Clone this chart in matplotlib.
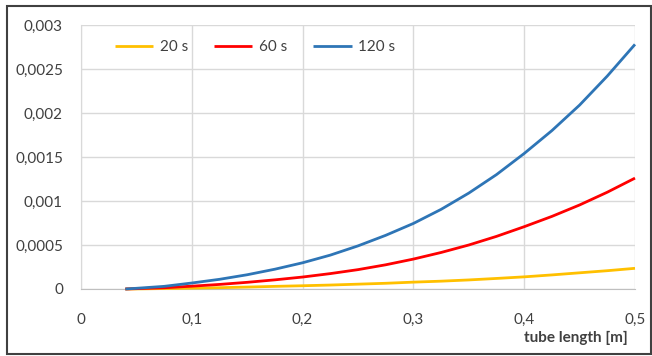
import matplotlib.pyplot as plt
from matplotlib.patches import Rectangle

plt.rcParams['font.family'] = ['Lato', 'DejaVu Sans']

# tube length [m] and values for each time
length = [0.04, 0.05, 0.075, 0.1, 0.125, 0.15, 0.175, 0.2, 0.225, 0.25,
          0.275, 0.3, 0.325, 0.35, 0.375, 0.4, 0.425, 0.45, 0.475, 0.5]
v20 = [0, 0.000001, 0.000005, 0.00001, 0.000015, 0.000022, 0.00003, 0.000037,
       0.000045, 0.000055, 0.000065, 0.000078, 0.000089, 0.000103, 0.00012,
       0.000138, 0.00016, 0.000184, 0.000208, 0.000235]
v60 = [0, 0.000004, 0.000014, 0.000032, 0.000052, 0.000076, 0.000104, 0.000136,
       0.000175, 0.00022, 0.000275, 0.00034, 0.000415, 0.0005, 0.000598,
       0.000708, 0.000825, 0.000955, 0.0011, 0.00126]
v120 = [0, 0.000008, 0.00003, 0.000068, 0.00011, 0.000162, 0.000225, 0.000298,
        0.000385, 0.00049, 0.00061, 0.000745, 0.000905, 0.00109, 0.0013,
        0.00154, 0.0018, 0.00209, 0.00242, 0.00278]

labels = ["20 s", "60 s", "120 s"]
colors = ["#FFC000", "#FF0000", "#2E75B6"]
xticks = [0, 0.1, 0.2, 0.3, 0.4, 0.5]
yticks = [0, 0.0005, 0.001, 0.0015, 0.002, 0.0025, 0.003]
xticklabels = ["0", "0,1", "0,2", "0,3", "0,4", "0,5"]
yticklabels = ["0", "0,0005", "0,001", "0,0015", "0,002", "0,0025", "0,003"]

W, H = 652, 356
fig = plt.figure(figsize=(W / 100, H / 100), dpi=100)
ax = fig.add_axes([81 / W, 1 - 289 / H, 554 / W, 264 / H])

for y, lab, c in zip([v20, v60, v120], labels, colors):
    ax.plot(length, y, color=c, lw=2.0, label=lab, clip_on=False,
            solid_capstyle='butt', solid_joinstyle='round', zorder=3)

ax.set_xlim(0, 0.5)
ax.set_ylim(0, 0.003)
ax.set_xticks(xticks)
ax.set_xticklabels(xticklabels)
ax.set_yticks(yticks)
ax.set_yticklabels(yticklabels)
ax.grid(True, color="#d9d9d9", lw=1.0)
ax.set_axisbelow(True)
for s in ax.spines.values():
    s.set_visible(False)
ax.spines['left'].set_visible(True)
ax.spines['left'].set_color("#d9d9d9")
ax.spines['bottom'].set_visible(True)
ax.spines['bottom'].set_color("#bfbfbf")
ax.tick_params(length=0, labelsize=11, colors="#404040")
ax.tick_params(axis='y', pad=13)
ax.tick_params(axis='x', pad=17)

fig.text(628 / W, 1 - 338 / H, "tube length [m]", ha="right", va="center",
         fontsize=11, fontweight="bold", color="#404040")

ax.legend(loc="center left", bbox_to_anchor=(101 / W, 1 - 47 / H),
          bbox_transform=fig.transFigure, ncol=3, frameon=False,
          fontsize=11, handlelength=2.5, handletextpad=0.45,
          columnspacing=1.7, labelcolor="#404040")

fig.patches.append(Rectangle((7 / W, 2 / H), 644 / W, 348 / H,
                             transform=fig.transFigure, fill=False,
                             edgecolor="#404040", lw=1.5))

fig.savefig("out.png", dpi=100)
